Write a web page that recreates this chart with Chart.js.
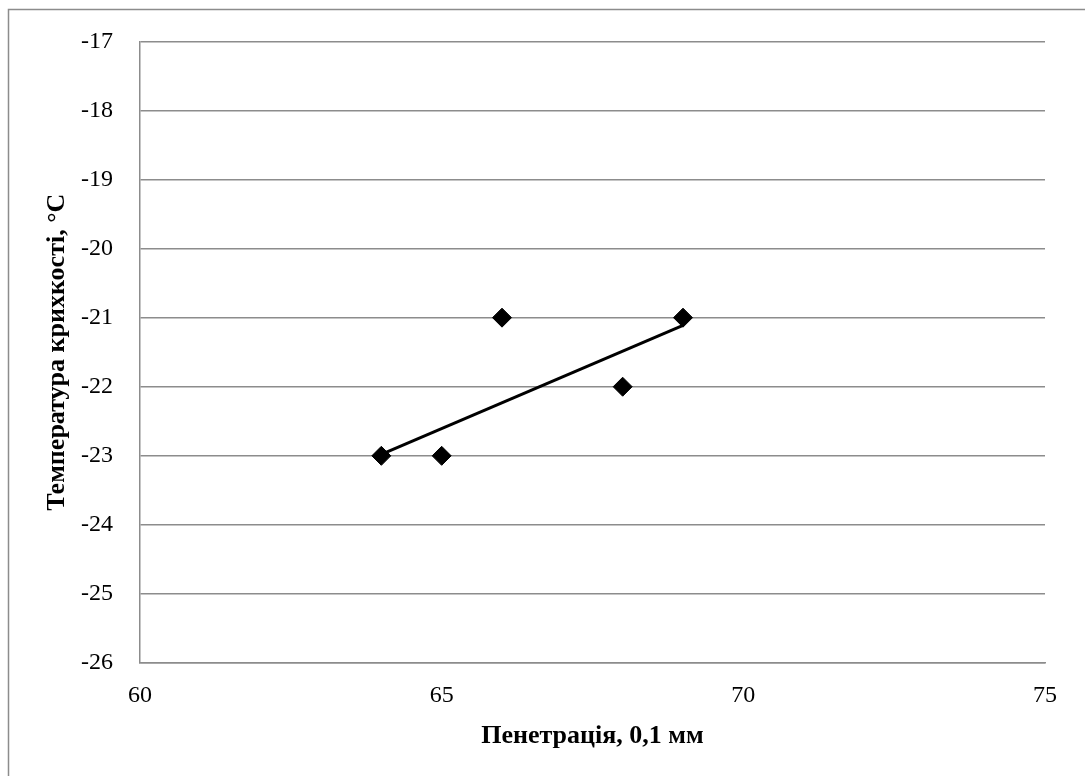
<!DOCTYPE html>
<html>
<head>
<meta charset="utf-8">
<script src="https://cdn.jsdelivr.net/npm/chart.js@4"></script>
<style>
  html, body { margin: 0; padding: 0; background: #fff; }
  #wrap { position: relative; width: 1085px; height: 776px; }
</style>
</head>
<body>
<div id="wrap"><canvas id="c" width="1085" height="776"></canvas></div>
<script>
// Data
const penetration = [64, 65, 66, 68, 69];
const brittleTemp = [-23, -23, -21, -22, -21];
const trendX = [64, 69];
const trendY = [-22.98, -21.11];
const xTitle = 'Пенетрація, 0,1 мм';
const yTitle = 'Температура крихкості, °C';
const xMin = 60, xMax = 75, xStep = 5;
const yMin = -26, yMax = -17, yStep = 1;

const points = penetration.map((x, i) => ({ x: x, y: brittleTemp[i] }));
const trend = trendX.map((x, i) => ({ x: x, y: trendY[i] }));

const frame = {
  id: 'frame',
  afterDraw(chart) {
    const ctx = chart.ctx;
    ctx.save();
    ctx.strokeStyle = '#8c8c8c';
    ctx.lineWidth = 1.5;
    ctx.beginPath();
    ctx.moveTo(8.5, 800);
    ctx.lineTo(8.5, 9.5);
    ctx.lineTo(1100, 9.5);
    ctx.stroke();
    ctx.restore();
  }
};

const tickFont = { family: '"Liberation Serif", "Times New Roman", serif', size: 24 };
const titleFont = { family: '"Liberation Serif", "Times New Roman", serif', size: 26, weight: 'bold' };

new Chart(document.getElementById('c'), {
  type: 'scatter',
  data: {
    datasets: [
      {
        type: 'line',
        data: trend,
        borderColor: '#000',
        borderWidth: 3,
        pointRadius: 0,
        fill: false,
        order: 2
      },
      {
        data: points,
        pointStyle: 'rectRot',
        pointRadius: 9.5,
        pointBackgroundColor: '#000',
        pointBorderColor: '#000',
        pointBorderWidth: 1,
        order: 1
      }
    ]
  },
  options: {
    responsive: false,
    animation: false,
    devicePixelRatio: 1,
    layout: { padding: { left: 0, top: 37, right: 40, bottom: 0 } },
    plugins: { legend: { display: false }, tooltip: { enabled: false } },
    scales: {
      x: {
        type: 'linear',
        min: xMin, max: xMax,
        ticks: { stepSize: xStep, color: '#000', font: tickFont, padding: 18, maxRotation: 0 },
        grid: { display: false, drawTicks: false },
        border: { display: true, color: '#8c8c8c', width: 1.5 },
        title: { display: true, text: xTitle, color: '#000', font: titleFont, padding: { top: 0, bottom: 24 } },
        afterFit(s) { s.height = 113; }
      },
      y: {
        type: 'linear',
        min: yMin, max: yMax,
        ticks: { stepSize: yStep, color: '#000', font: tickFont, padding: 27 },
        grid: { display: true, drawTicks: false, color: '#8c8c8c', lineWidth: 1.5 },
        border: { display: true, color: '#8c8c8c', width: 1.5 },
        title: { display: true, text: yTitle, color: '#000', font: titleFont, padding: { top: 42, bottom: 0 } },
        afterFit(s) { s.width = 140; }
      }
    }
  },
  plugins: [frame]
});
</script>
</body>
</html>
